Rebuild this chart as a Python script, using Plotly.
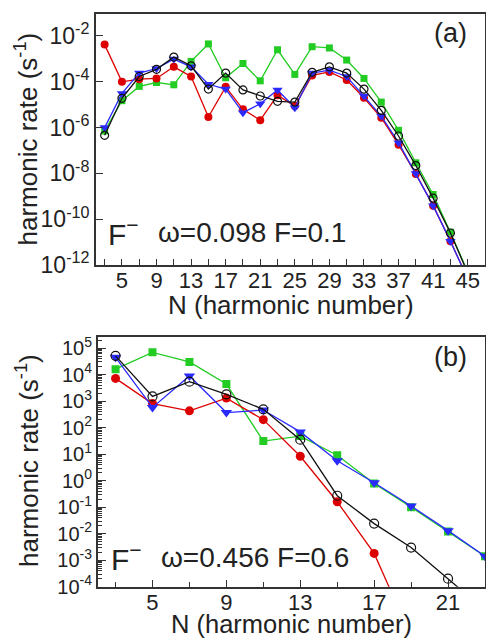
import plotly.graph_objects as go

# ---------------- data ----------------
# panel (a): omega=0.098, F=0.1
N_a = [3, 5, 7, 9, 11, 13, 15, 17, 19, 21, 23, 25, 27, 29, 31, 33, 35, 37, 39, 41, 43, 45]
red_a = [4.2e-3, 1.0e-4, 1.3e-4, 1.4e-4, 4.5e-4, 1.7e-4, 2.9e-6, 6.0e-5, 6.3e-6, 2.1e-6, 2.6e-5,
         8.7e-6, 1.9e-4, 2.7e-4, 1.2e-4, 2.0e-5, 2.7e-6, 1.8e-7, 9.5e-9, 3.9e-10, 1.1e-11, 2.5e-13]
green_a = [7.1e-7, 1.5e-5, 6.3e-5, 9.3e-5, 7.4e-5, 7.8e-4, 4.5e-3, 1.5e-4, 6.3e-4, 1.1e-4, 2.5e-3,
           2.1e-4, 3.4e-3, 3.0e-3, 8.9e-4, 1.4e-4, 1.3e-5, 7.6e-7, 2.9e-8, 1.2e-9, 2.7e-11, 5.0e-13]
blue_a = [1.0e-6, 3.1e-5, 2.4e-4, 3.8e-4, 9.8e-4, 4.5e-4, 7.8e-5, 4.8e-5, 4.5e-6, 1.1e-5, 4.4e-5,
          7.4e-6, 2.4e-4, 3.2e-4, 1.7e-4, 2.4e-5, 3.2e-6, 2.2e-7, 1.0e-8, 3.9e-10, 1.1e-11, 2.5e-13]
black_a = [4.6e-7, 1.9e-5, 1.7e-4, 3.5e-4, 1.2e-3, 5.0e-4, 4.8e-5, 2.4e-4, 4.4e-5, 2.4e-5, 1.4e-5,
           1.3e-5, 2.6e-4, 4.5e-4, 2.4e-4, 4.8e-5, 5.6e-6, 4.3e-7, 2.2e-8, 8.3e-10, 2.5e-11, 4.5e-13]

# panel (b): omega=0.456, F=0.6
N_b = [3, 5, 7, 9, 11, 13, 15, 17, 19, 21, 23]
N_b_red = [3, 5, 7, 9, 11, 13, 15, 17, 19]
red_b = [7.2e3, 8.1e2, 4.3e2, 1.3e3, 2.0e2, 8.3, 0.16, 1.8e-3, 1.3e-6]
green_b = [1.6e4, 6.9e4, 3.0e4, 4.4e3, 31, 48, 9.1, 0.78, 0.10, 0.012, 1.4e-3]
blue_b = [4.5e4, 5.8e2, 8.9e3, 3.7e2, 4.6e2, 69, 5.6, 0.83, 0.11, 0.013, 1.4e-3]
black_b = [5.1e4, 1.5e3, 5.4e3, 1.8e3, 4.9e2, 35, 0.27, 0.024, 3.0e-3, 2.0e-4, 1.3e-5]

# tick labels
xticks_a = [5, 9, 13, 17, 21, 25, 29, 33, 37, 41, 45]
xticks_b = [5, 9, 13, 17, 21]
yexp_a = [-12, -10, -8, -6, -4, -2]
yexp_b = [-4, -3, -2, -1, 0, 1, 2, 3, 4, 5]

# ---------------- style ----------------
W, H = 486, 640
FONT = "Liberation Sans, Arial, Helvetica, sans-serif"
TXT = "#222222"
AX = "#333333"
RED = "#dd0000"
GREEN = "#22cc22"
BLUE = "#2a2aff"
BLACK = "#111111"


def py(p):
    return 1 - p / H


def px(p):
    return p / W


fig = go.Figure()


def add_series(x, y, color, symbol, size, xa, ya, open_marker=False):
    marker = dict(symbol=symbol, size=size, color=color)
    if open_marker:
        marker = dict(symbol=symbol, size=size, color=color, line=dict(width=1.2, color=color))
    fig.add_trace(go.Scatter(x=x, y=y, mode="lines+markers", xaxis=xa, yaxis=ya,
                             line=dict(color=color, width=1.3), marker=marker,
                             showlegend=False))


# panel (a)
add_series(N_a, green_a, GREEN, "square", 7, "x", "y")
add_series(N_a, red_a, RED, "circle", 8, "x", "y")
add_series(N_a, blue_a, BLUE, "triangle-down", 9, "x", "y")
add_series(N_a, black_a, BLACK, "circle-open", 8, "x", "y", open_marker=True)
# panel (b)
add_series(N_b, green_b, GREEN, "square", 8, "x2", "y2")
add_series(N_b_red, red_b, RED, "circle", 9, "x2", "y2")
add_series(N_b, blue_b, BLUE, "triangle-down", 10, "x2", "y2")
add_series(N_b, black_b, BLACK, "circle-open", 9, "x2", "y2", open_marker=True)

common_axis = dict(showline=True, linecolor=AX, linewidth=2, mirror=True,
                   ticks="inside", tickcolor=AX, tickwidth=1.3, automargin=False,
                   showgrid=False, zeroline=False, tickangle=0,
                   tickfont=dict(family=FONT, size=22, color=TXT))

minor_b = [m * 10.0 ** k for k in range(-5, 6) for m in range(2, 10)]

fig.update_layout(
    width=W, height=H,
    margin=dict(l=0, r=0, t=0, b=0, autoexpand=False),
    paper_bgcolor="white", plot_bgcolor="white",
    xaxis=dict(common_axis, domain=[px(96), px(485)], anchor="y", range=[2, 47],
               tickmode="array", tickvals=xticks_a, ticklen=6, ticklabelstandoff=-5,
               minor=dict(tickmode="array", tickvals=[3, 7, 11, 15, 19, 23, 27, 31, 35, 39, 43, 47],
                          ticks="inside", ticklen=6, tickcolor=AX, tickwidth=1.3)),
    yaxis=dict(common_axis, domain=[py(265), py(14)], anchor="x", type="log",
               range=[-12, -1.04], tickmode="array",
               tickvals=[10.0 ** e for e in yexp_a],
               ticktext=["10<sup>%d</sup>" % e for e in yexp_a], ticklen=7,
               tickfont=dict(family=FONT, size=23, color=TXT)),
    xaxis2=dict(common_axis, domain=[px(98), px(485)], anchor="y2", range=[2.05, 23],
                tickmode="array", tickvals=xticks_b, ticklen=7, ticklabelstandoff=-5,
                minor=dict(tickmode="array", tickvals=[3, 7, 11, 15, 19, 23],
                           ticks="inside", ticklen=5, tickcolor=AX, tickwidth=1.3)),
    yaxis2=dict(common_axis, domain=[py(586.7), py(336.7)], anchor="x2", type="log",
                range=[-4, 5.43], tickmode="array",
                tickvals=[10.0 ** e for e in yexp_b],
                ticktext=["10<sup>%d</sup>" % e for e in yexp_b], ticklen=8,
                tickfont=dict(family=FONT, size=20, color=TXT),
                minor=dict(tickmode="array", tickvals=minor_b, ticks="inside",
                           ticklen=4, tickcolor=AX, tickwidth=1)),
)


def ann(text, x, y, size, xanchor="center", yanchor="middle", angle=0):
    fig.add_annotation(text=text, x=x, y=y, xref="paper", yref="paper",
                       xanchor=xanchor, yanchor=yanchor, showarrow=False,
                       textangle=angle, font=dict(family=FONT, size=size, color=TXT))


ylab = "harmonic rate (s<sup>-1</sup>)"
xlab = "N (harmonic number)"
ann(ylab, px(27), py(139.5), 26, angle=-90)
ann(ylab, px(27), py(461), 26, angle=-90)
ann(xlab, px(291), py(305), 26)
ann(xlab, px(291), 0, 25.5, yanchor="bottom")
ann("(a)", px(450), py(33), 27)
ann("(b)", px(450), py(357), 27)
ann("F<sup>\u2212</sup>", px(106), py(232), 30, xanchor="left")
ann("\u03c9=0.098 F=0.1", px(156), py(232), 28, xanchor="left")
ann("F<sup>\u2212</sup>", px(109), py(557), 30, xanchor="left")
ann("\u03c9=0.456 F=0.6", px(159), py(557), 28, xanchor="left")

fig.write_html("out.html", config={"displayModeBar": False},
               post_script="document.body.style.margin='0';document.body.style.padding='0';")
